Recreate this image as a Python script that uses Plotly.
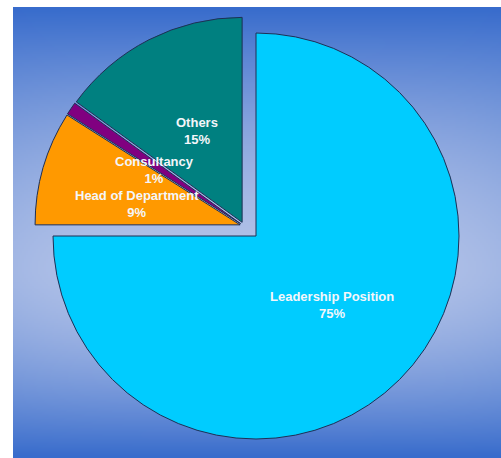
import base64
import struct
import zlib

import plotly.graph_objects as go

# Survey breakdown of current roles
categories = ["Leadership Position", "Head of Department", "Consultancy", "Others"]
shares = [75, 9, 1, 15]
slice_colors = ["#00CCFF", "#FF9900", "#800080", "#008080"]

# Label anchor points (pixels from the top-left of the page)
label_xy = [(332, 305), (137, 204), (154, 170), (197, 131)]

W, H = 501, 458


def gradient_png(w, h):
    """Blue backdrop: dark at top and bottom, lighter band below the middle."""
    dark = (56, 108, 204)
    light = (178, 194, 232)
    rows = []
    for j in range(h):
        t = j / (h - 1)
        c = 0.58
        d = (t - c) / (c if t < c else 1 - c)
        a = max(0.0, 1 - abs(d) ** 1.7)
        row = bytearray([0])
        for i in range(w):
            u = (i / (w - 1)) * 2 - 1
            k = a * (1 - 0.12 * abs(u) ** 4)
            row += bytes(int(dark[n] + (light[n] - dark[n]) * k) for n in range(3))
        rows.append(bytes(row))
    raw = b"".join(rows)

    def chunk(tag, data):
        body = tag + data
        return struct.pack(">I", len(data)) + body + struct.pack(">I", zlib.crc32(body) & 0xFFFFFFFF)

    png = b"\x89PNG\r\n\x1a\n"
    png += chunk(b"IHDR", struct.pack(">IIBBBBB", w, h, 8, 2, 0, 0, 0))
    png += chunk(b"IDAT", zlib.compress(raw, 9))
    png += chunk(b"IEND", b"")
    return "data:image/png;base64," + base64.b64encode(png).decode()


def domain(cx, cy, r):
    return dict(x=[(cx - r) / W, (cx + r) / W], y=[1 - (cy + r) / H, 1 - (cy - r) / H])


gap = 0.02
pulls = [0, gap, gap, gap]
outline = "#1E2F55"
clear = "rgba(0,0,0,0)"

fig = go.Figure()

# Main slice (Leadership Position) stays in place
fig.add_trace(go.Pie(
    labels=categories, values=shares, sort=False, direction="clockwise", rotation=0,
    marker=dict(colors=[slice_colors[0], clear, clear, clear],
                line=dict(color=[outline, clear, clear, clear], width=1)),
    pull=pulls, textinfo="none", hoverinfo="label+percent",
    domain=domain(256, 236, 203 * (1 + gap)), showlegend=False,
))

# The remaining slices are exploded together towards the upper left
fig.add_trace(go.Pie(
    labels=categories, values=shares, sort=False, direction="clockwise", rotation=0,
    marker=dict(colors=[clear] + slice_colors[1:],
                line=dict(color=[clear, outline, outline, outline], width=1)),
    pull=pulls, textinfo="none", hoverinfo="label+percent",
    domain=domain(244, 226, 205 * (1 + gap)), showlegend=False,
))

for name, val, (px, py) in zip(categories, shares, label_xy):
    fig.add_annotation(
        x=px / W, y=1 - py / H, xref="paper", yref="paper",
        text=f"<b>{name}<br>{val}%</b>", showarrow=False,
        font=dict(family="Liberation Sans, Arial, sans-serif", size=13, color="#F4F6FA"),
        xanchor="center", yanchor="middle",
    )

fig.update_layout(
    width=W, height=H,
    margin=dict(l=0, r=0, t=0, b=0),
    paper_bgcolor="white", plot_bgcolor="white",
    images=[dict(
        source=gradient_png(244, 226), xref="paper", yref="paper",
        x=13 / W, y=1 - 7 / H, sizex=1 - 13 / W, sizey=1 - 7 / H,
        xanchor="left", yanchor="top", sizing="stretch", layer="below",
    )],
)

fig.write_html("out.html")
